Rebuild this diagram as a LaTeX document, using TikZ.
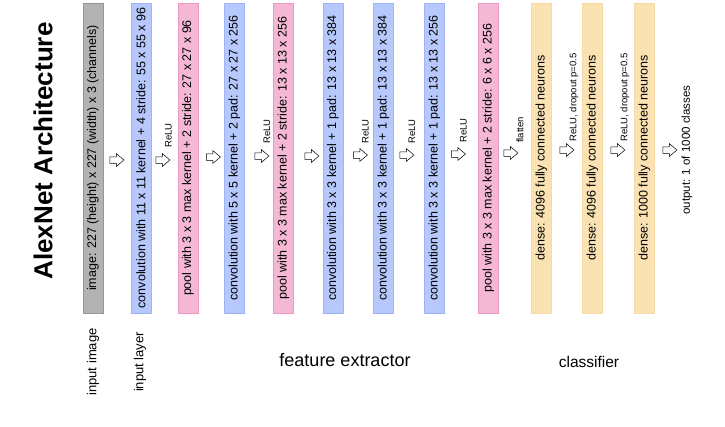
\documentclass[tikz,border=0pt]{standalone}
\usepackage{fontspec}
\setmainfont{Liberation Sans}
\usetikzlibrary{shapes.arrows}
\definecolor{grayfill}{RGB}{179,179,179}
\definecolor{grayline}{RGB}{150,150,150}
\definecolor{bluefill}{RGB}{182,200,252}
\definecolor{blueline}{RGB}{158,180,246}
\definecolor{pinkfill}{RGB}{244,184,213}
\definecolor{pinkline}{RGB}{236,152,196}
\definecolor{yellowfill}{RGB}{250,226,178}
\definecolor{yellowline}{RGB}{246,218,166}
\begin{document}
\begin{tikzpicture}[x=1pt,y=-1pt,
  bar/.style={draw, line width=0.8pt, rotate=90, minimum width=310pt, minimum height=20pt,
    inner sep=0pt, font=\fontsize{12.5}{14}\selectfont},
  graybar/.style={bar, fill=grayfill, draw=grayline},
  bluebar/.style={bar, fill=bluefill, draw=blueline},
  pinkbar/.style={bar, fill=pinkfill, draw=pinkline},
  yellowbar/.style={bar, fill=yellowfill, draw=yellowline},
  flow/.style={single arrow, draw=black, fill=white, line width=0.5pt, minimum height=14pt,
    minimum width=12pt, single arrow head extend=3pt, single arrow tip angle=80, inner sep=3pt},
  note/.style={rotate=90, anchor=west, inner sep=0pt, font=\fontsize{9.5}{11}\selectfont},
  section/.style={inner sep=0pt},
  sidelabel/.style={rotate=90, inner sep=0pt, font=\fontsize{13}{15}\selectfont}
]
\useasboundingbox (0,0) rectangle (725,426);

% title
\node[rotate=90, inner sep=0pt, font=\fontsize{26}{30}\selectfont\bfseries] (title) at (43,151) {AlexNet Architecture};

% bars
\node[graybar]   (img)  at (93,158)    {image: 227 (height) x 227 (width) x 3 (channels)};
\node[bluebar]   (c1)   at (141,158)   {convolution with 11 x 11 kernel + 4 stride: 55 x 55 x 96};
\node[pinkbar]   (p1)   at (188,158)   {pool with 3 x 3 max kernel + 2 stride: 27 x 27 x 96};
\node[bluebar]   (c2)   at (234.5,158) {convolution with 5 x 5 kernel + 2 pad: 27 x 27 x 256};
\node[pinkbar]   (p2)   at (283.5,158) {pool with 3 x 3 max kernel + 2 stride: 13 x 13 x 256};
\node[bluebar]   (c3)   at (333,158)   {convolution with 3 x 3 kernel + 1 pad: 13 x 13 x 384};
\node[bluebar]   (c4)   at (383.5,158) {convolution with 3 x 3 kernel + 1 pad: 13 x 13 x 384};
\node[bluebar]   (c5)   at (434.5,158) {convolution with 3 x 3 kernel + 1 pad: 13 x 13 x 256};
\node[pinkbar]   (p3)   at (488.5,158) {pool with 3 x 3 max kernel + 2 stride: 6 x 6 x 256};
\node[yellowbar] (d1)   at (541.5,158) {dense: 4096 fully connected neurons};
\node[yellowbar] (d2)   at (592.5,158) {dense: 4096 fully connected neurons};
\node[yellowbar] (d3)   at (644.5,158) {dense: 1000 fully connected neurons};

% arrows
\node[flow] (a1)  at (115,160)   {};
\node[flow] (a2)  at (161,160)   {};
\node[flow] (a3)  at (211.5,157) {};
\node[flow] (a4)  at (260,156)   {};
\node[flow] (a5)  at (310,156)   {};
\node[flow] (a6)  at (358.5,155) {};
\node[flow] (a7)  at (405,155)   {};
\node[flow] (a8)  at (456.5,154) {};
\node[flow] (a9)  at (509,153)   {};
\node[flow] (a10) at (565,150)   {};
\node[flow] (a11) at (616,150)   {};
\node[flow] (a12) at (668,150)   {};

% arrow labels
\node[note] (r2)  at (168.5,148) {ReLU};
\node[note] (r4)  at (267,144)   {ReLU};
\node[note] (r6)  at (365.5,144) {ReLU};
\node[note] (r7)  at (412,144)   {ReLU};
\node[note] (r8)  at (463.5,143) {ReLU};
\node[note] (r9)  at (520,143)   {flatten};
\node[note] (r10) at (574,142)   {ReLU, dropout p=0.5};
\node[note] (r11) at (625,142)   {ReLU, dropout p=0.5};

% output
\node[rotate=90, inner sep=0pt, font=\fontsize{11.5}{13}\selectfont] (out) at (687,150) {output: 1 of 1000 classes};

% bottom labels
\node[sidelabel] (lin)  at (93,362)  {input image};
\node[sidelabel] (lay)  at (140,362) {input layer};
\node[section, font=\fontsize{18}{20}\selectfont] (fe) at (345,360) {feature extractor};
\node[section, font=\fontsize{15.5}{18}\selectfont] (cl) at (589,362) {classifier};
\end{tikzpicture}
\end{document}
